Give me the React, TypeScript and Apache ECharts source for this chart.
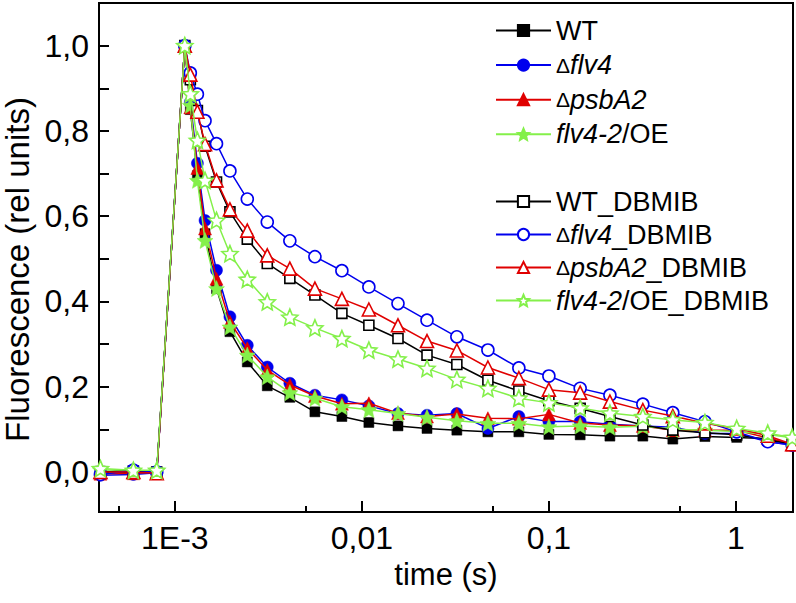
import React, { useEffect, useRef } from 'react';
import * as echarts from 'echarts';

// time (s)
const times = [4e-4, 6e-4, 8e-4, 1.13e-3, 1.21e-3, 1.32e-3, 1.45e-3, 1.67e-3, 1.97e-3, 2.44e-3, 3.12e-3, 4.12e-3, 5.61e-3, 7.82e-3, 1.09e-2, 1.56e-2, 2.23e-2, 3.22e-2, 4.72e-2, 6.91e-2, 0.1, 0.147, 0.212, 0.318, 0.46, 0.683, 1.01, 1.48, 2.0];

const wt = [0.002, -0.003, 0.0, 1.0, 0.85, 0.695, 0.559, 0.43, 0.329, 0.258, 0.202, 0.175, 0.141, 0.13, 0.116, 0.108, 0.102, 0.098, 0.094, 0.094, 0.088, 0.087, 0.084, 0.084, 0.077, 0.083, 0.081, 0.078, 0.065];
const flv4 = [-0.008, -0.006, -0.002, 1.0, 0.867, 0.724, 0.59, 0.473, 0.364, 0.297, 0.246, 0.208, 0.18, 0.169, 0.155, 0.137, 0.133, 0.137, 0.102, 0.13, 0.118, 0.118, 0.112, 0.108, 0.105, 0.09, 0.09, 0.071, 0.063];
const psbA2 = [-0.004, -0.003, 0.0, 1.0, 0.855, 0.713, 0.571, 0.453, 0.352, 0.29, 0.239, 0.204, 0.178, 0.16, 0.161, 0.138, 0.13, 0.136, 0.126, 0.125, 0.135, 0.115, 0.11, 0.108, 0.098, 0.098, 0.098, 0.08, 0.064];
const oe = [0.005, 0.003, 0.003, 1.0, 0.86, 0.684, 0.543, 0.43, 0.34, 0.274, 0.223, 0.186, 0.173, 0.153, 0.146, 0.137, 0.128, 0.12, 0.114, 0.114, 0.106, 0.108, 0.105, 0.107, 0.1, 0.098, 0.095, 0.088, 0.08];
const wtD = [0.0, 0.002, 0.0, 1.0, 0.92, 0.848, 0.764, 0.68, 0.61, 0.546, 0.489, 0.454, 0.415, 0.372, 0.344, 0.313, 0.274, 0.252, 0.215, 0.19, 0.167, 0.149, 0.13, 0.11, 0.098, 0.092, 0.087, 0.075, 0.065];
const flv4D = [-0.006, 0.004, 0.0, 1.0, 0.936, 0.886, 0.824, 0.77, 0.706, 0.64, 0.586, 0.542, 0.505, 0.472, 0.434, 0.395, 0.356, 0.317, 0.286, 0.244, 0.225, 0.196, 0.18, 0.159, 0.139, 0.118, 0.094, 0.071, 0.063];
const psbA2D = [0.0, 0.0, -0.003, 1.0, 0.932, 0.845, 0.769, 0.684, 0.616, 0.566, 0.508, 0.477, 0.43, 0.406, 0.381, 0.344, 0.307, 0.285, 0.245, 0.22, 0.193, 0.186, 0.165, 0.145, 0.131, 0.114, 0.102, 0.085, 0.065];
const oeD = [0.008, 0.004, 0.004, 1.0, 0.887, 0.778, 0.684, 0.59, 0.512, 0.452, 0.399, 0.363, 0.338, 0.313, 0.286, 0.265, 0.243, 0.217, 0.196, 0.173, 0.162, 0.15, 0.138, 0.13, 0.122, 0.116, 0.102, 0.091, 0.081];

const seriesNames = ['WT', 'Δflv4', 'ΔpsbA2', 'flv4-2/OE', 'WT_DBMIB', 'Δflv4_DBMIB', 'ΔpsbA2_DBMIB', 'flv4-2/OE_DBMIB'];
const seriesValues = [wt, flv4, psbA2, oe, wtD, flv4D, psbA2D, oeD];

const xMin = 3.93e-4;
const xMax = 2.02;
const xTickValues = [0.001, 0.01, 0.1, 1];
const xTickLabels = ['1E-3', '0,01', '0,1', '1'];
const xMinorTicks = [5e-4, 5e-3, 0.05, 0.5];
const yLabelValues = [0, 0.2, 0.4, 0.6, 0.8, 1.0];
const yTickValues = [0, 0.1, 0.2, 0.3, 0.4, 0.5, 0.6, 0.7, 0.8, 0.9, 1.0];

const STAR = 'path://M0,-10L2.8,-3.6L9.5,-3.1L4.4,1.4L5.9,8.1L0,4.6L-5.9,8.1L-4.4,1.4L-9.5,-3.1L-2.8,-3.6Z';
const BLACK = '#000000';
const BLUE = '#0000EE';
const RED = '#E00000';
const GREEN = '#84F04A';
const colors = [BLACK, BLUE, RED, GREEN, BLACK, BLUE, RED, GREEN];
const symbols = ['rect', 'circle', 'triangle', STAR, 'rect', 'circle', 'triangle', STAR];
const symbolSizes = [10, 12, 13, 16, 10, 12, 13, 16];
const FONT = 'Liberation Sans, Arial, sans-serif';

const lg = (v: number) => Math.log10(v);

function legendFormatter(name: string) {
  return name
    .replace('Δ', '{d|Δ}')
    .replace(/(flv4-2|flv4|psbA2)/, '{i|$1}');
}

export default function App() {
  const ref = useRef<HTMLDivElement>(null);
  useEffect(() => {
    if (!ref.current) return;
    const chart = echarts.init(ref.current, undefined, { renderer: 'svg' });
    const series = seriesNames.map((name, k) => {
      const open = k >= 4;
      return {
        name,
        type: 'line',
        xAxisIndex: 0,
        data: times.map((t, i) => [lg(t), seriesValues[k][i]]),
        symbol: symbols[k],
        symbolSize: symbolSizes[k],
        showAllSymbol: true,
        lineStyle: { color: colors[k], width: 1.5 },
        itemStyle: open
          ? { color: '#ffffff', borderColor: colors[k], borderWidth: 1.6 }
          : { color: colors[k], borderColor: colors[k], borderWidth: 0.5 },
        z: 2 + k,
      };
    });
    const legendCommon = {
      orient: 'vertical',
      left: 490,
      itemWidth: 55,
      itemHeight: 14,
      selectedMode: false,
      formatter: legendFormatter,
      textStyle: {
        fontSize: 27,
        fontFamily: FONT,
        color: '#000',
        lineHeight: 26,
        rich: {
          i: { fontStyle: 'italic', fontSize: 27, fontFamily: FONT, color: '#000', lineHeight: 26 },
          d: { fontSize: 21, fontFamily: FONT, color: '#000', lineHeight: 26 },
        },
      },
    };
    chart.setOption({
      animation: false,
      backgroundColor: '#ffffff',
      grid: { left: 99, right: 3, top: 3, bottom: 91, show: true, borderColor: '#000', borderWidth: 2, containLabel: false, outerBoundsMode: 'none' },
      legend: [
        { ...legendCommon, top: 12, itemGap: 7.6, data: seriesNames.slice(0, 4) },
        { ...legendCommon, top: 183, itemGap: 6, data: seriesNames.slice(4) },
      ],
      xAxis: [
        {
          type: 'value',
          min: lg(xMin),
          max: lg(xMax),
          axisLine: { show: true, onZero: false, lineStyle: { color: '#000', width: 2 } },
          axisTick: { show: true, inside: true, length: 11, customValues: xTickValues.map(lg), lineStyle: { color: '#000', width: 2 } },
          axisLabel: {
            customValues: xTickValues.map(lg),
            fontSize: 32,
            fontFamily: FONT,
            color: '#000',
            margin: 10,
            formatter: (v: number) => {
              const idx = xTickValues.findIndex((t) => Math.abs(lg(t) - v) < 0.01);
              return idx >= 0 ? xTickLabels[idx] : '';
            },
          },
          splitLine: { show: false },
          minorTick: { show: false },
          name: 'time (s)',
          nameLocation: 'middle',
          nameGap: 45,
          nameTextStyle: { fontSize: 31, fontFamily: FONT, color: '#000' },
        },
        {
          type: 'value',
          min: lg(xMin),
          max: lg(xMax),
          position: 'bottom',
          axisLine: { show: false, onZero: false },
          axisTick: { show: true, inside: true, length: 6, customValues: xMinorTicks.map(lg), lineStyle: { color: '#000', width: 2 } },
          axisLabel: { show: false },
          splitLine: { show: false },
        },
      ],
      yAxis: {
        type: 'value',
        min: -0.094,
        max: 1.1,
        axisLine: { show: true, onZero: false, lineStyle: { color: '#000', width: 2 } },
        axisTick: { show: true, inside: true, length: 10, customValues: yTickValues, lineStyle: { color: '#000', width: 2 } },
        axisLabel: {
          customValues: yLabelValues,
          fontSize: 32,
          fontFamily: FONT,
          color: '#000',
          margin: 10,
          formatter: (v: number) => v.toFixed(1).replace('.', ','),
        },
        splitLine: { show: false },
        name: 'Fluorescence (rel units)',
        nameLocation: 'middle',
        nameGap: 54,
        nameRotate: 90,
        nameTextStyle: { fontSize: 33, fontFamily: FONT, color: '#000', padding: [0, 24, 0, 0] },
      },
      series,
    });
    return () => chart.dispose();
  }, []);
  return <div ref={ref} style={{ position: 'fixed', left: 0, top: 0, width: 796, height: 603 }} />;
}
